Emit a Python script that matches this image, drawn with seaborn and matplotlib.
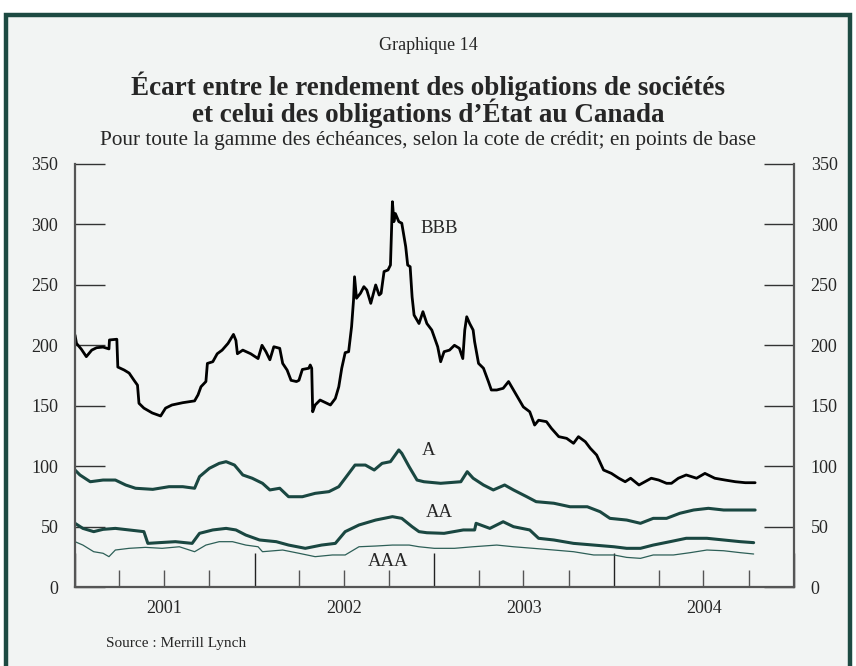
"""Graphique 14 - ecart de rendement obligations de societes vs Etat (Canada)."""
import matplotlib
matplotlib.use("Agg")
import matplotlib.dates as mdates
import matplotlib.pyplot as plt
import matplotlib.transforms as mtransforms
import pandas as pd
import seaborn as sns
from matplotlib.patches import Rectangle

# --- data (points de base) ---
BBB_DATES = [
    "2001-01-01", "2001-01-04", "2001-01-14", "2001-01-24", "2001-02-04", "2001-02-14",
    "2001-02-27", "2001-03-11", "2001-03-12", "2001-03-27", "2001-03-29", "2001-04-11",
    "2001-04-21", "2001-05-01", "2001-05-08", "2001-05-11", "2001-05-21", "2001-06-07",
    "2001-06-24", "2001-07-04", "2001-07-17", "2001-08-08", "2001-09-01", "2001-09-08",
    "2001-09-14", "2001-09-24", "2001-09-27", "2001-10-08", "2001-10-17", "2001-10-27",
    "2001-11-08", "2001-11-19", "2001-11-24", "2001-11-27", "2001-12-08", "2001-12-24",
    "2002-01-08", "2002-01-16", "2002-01-24", "2002-02-01", "2002-02-09", "2002-02-21",
    "2002-02-27", "2002-03-08", "2002-03-16", "2002-03-27", "2002-04-01", "2002-04-08",
    "2002-04-21", "2002-04-24", "2002-04-27", "2002-04-29", "2002-05-04", "2002-05-14",
    "2002-06-04", "2002-06-14", "2002-06-21", "2002-06-27", "2002-07-04", "2002-07-11",
    "2002-07-17", "2002-07-21", "2002-07-23", "2002-07-27", "2002-08-04", "2002-08-11",
    "2002-08-17", "2002-08-25", "2002-09-04", "2002-09-11", "2002-09-15", "2002-09-21",
    "2002-09-29", "2002-10-04", "2002-10-08", "2002-10-11", "2002-10-14", "2002-10-21",
    "2002-10-27", "2002-11-04", "2002-11-08", "2002-11-13", "2002-11-17", "2002-11-21",
    "2002-12-01", "2002-12-09", "2002-12-17", "2002-12-27", "2003-01-08", "2003-01-14",
    "2003-01-21", "2003-02-01", "2003-02-11", "2003-02-21", "2003-02-28", "2003-03-04",
    "2003-03-08", "2003-03-14", "2003-03-21", "2003-03-24", "2003-04-01", "2003-04-11",
    "2003-04-21", "2003-04-27", "2003-05-08", "2003-05-21", "2003-06-01", "2003-06-11",
    "2003-06-21", "2003-07-01", "2003-07-14", "2003-07-24", "2003-08-01", "2003-08-17",
    "2003-08-27", "2003-09-11", "2003-09-27", "2003-10-11", "2003-10-21", "2003-11-04",
    "2003-11-14", "2003-11-27", "2003-12-11", "2003-12-27", "2004-01-11", "2004-01-24",
    "2004-02-04", "2004-02-21", "2004-03-04", "2004-03-17", "2004-04-01", "2004-04-17",
    "2004-04-27", "2004-05-11", "2004-05-27", "2004-06-17", "2004-07-04", "2004-07-24",
    "2004-08-14", "2004-09-04", "2004-09-24", "2004-10-14",
]
BBB_VALUES = [
    208.5, 201.6, 196.7, 190.6, 196.0, 198.0,
    198.5, 197.0, 204.4, 205.0, 182.0, 179.5,
    177.0, 171.0, 167.0, 152.0, 148.0, 144.0,
    141.5, 148.0, 150.6, 152.5, 154.0, 159.0,
    165.7, 170.0, 185.0, 186.4, 193.0, 196.0,
    201.6, 209.0, 204.0, 193.0, 196.0, 193.0,
    189.0, 200.0, 194.7, 188.0, 198.8, 197.5,
    185.0, 179.5, 171.0, 170.0, 171.0, 180.0,
    181.0, 183.7, 181.0, 145.0, 150.6, 154.7,
    150.6, 156.0, 165.7, 181.0, 193.9, 194.7,
    215.4, 237.5, 256.7, 238.9, 243.0, 248.5,
    245.7, 234.7, 249.9, 241.6, 243.0, 261.0,
    262.3, 266.4, 318.8, 302.3, 309.0, 302.3,
    301.0, 281.6, 266.4, 265.0, 240.0, 225.0,
    218.0, 227.8, 218.0, 212.6, 198.8, 186.4,
    194.7, 196.0, 200.0, 197.5, 189.0, 212.6,
    223.6, 218.0, 212.6, 203.0, 185.0, 181.0,
    170.0, 163.0, 163.0, 164.4, 170.0, 163.0,
    156.0, 149.0, 145.0, 134.0, 138.0, 136.8,
    131.3, 124.4, 123.0, 118.9, 124.4, 120.2,
    114.8, 109.2, 96.8, 94.0, 90.0, 87.1,
    90.0, 84.4, 87.1, 90.0, 88.5, 85.8,
    85.8, 90.0, 92.7, 90.0, 94.0, 90.0,
    88.5, 87.1, 86.3, 86.3,
]

A_DATES = [
    "2001-01-01", "2001-01-11", "2001-02-01", "2001-02-27", "2001-03-24", "2001-04-14",
    "2001-05-04", "2001-06-08", "2001-07-11", "2001-08-08", "2001-09-01", "2001-09-11",
    "2001-10-01", "2001-10-21", "2001-11-04", "2001-11-21", "2001-12-08", "2001-12-27",
    "2002-01-17", "2002-02-01", "2002-02-21", "2002-03-11", "2002-04-08", "2002-05-04",
    "2002-06-01", "2002-06-21", "2002-07-04", "2002-07-24", "2002-08-14", "2002-09-01",
    "2002-09-17", "2002-10-04", "2002-10-21", "2002-10-27", "2002-11-11", "2002-11-27",
    "2002-12-11", "2003-01-14", "2003-02-24", "2003-03-09", "2003-03-21", "2003-04-11",
    "2003-05-01", "2003-05-24", "2003-06-11", "2003-07-08", "2003-07-27", "2003-09-01",
    "2003-10-04", "2003-11-08", "2003-12-04", "2003-12-24", "2004-01-27", "2004-02-24",
    "2004-03-21", "2004-04-17", "2004-05-14", "2004-06-11", "2004-07-11", "2004-08-11",
    "2004-09-14", "2004-10-14",
]
A_VALUES = [
    96.8, 92.7, 87.1, 88.5, 88.5, 84.4,
    81.7, 80.8, 83.0, 83.0, 81.7, 91.3,
    98.2, 102.3, 103.7, 100.9, 92.7, 90.0,
    85.8, 80.3, 81.7, 74.7, 74.7, 77.5,
    78.9, 83.0, 90.0, 100.9, 100.9, 96.8,
    102.3, 103.7, 113.4, 110.6, 99.5, 88.5,
    87.1, 85.8, 87.1, 95.4, 90.0, 84.4,
    80.3, 84.4, 80.3, 74.7, 70.6, 69.3,
    66.4, 66.4, 62.3, 56.8, 55.4, 52.7,
    56.8, 56.8, 61.0, 63.7, 65.1, 63.7,
    63.7, 63.7,
]

AA_DATES = [
    "2001-01-01", "2001-01-17", "2001-02-08", "2001-02-27", "2001-03-24", "2001-04-21",
    "2001-05-21", "2001-05-29", "2001-06-21", "2001-07-24", "2001-08-27", "2001-09-11",
    "2001-10-08", "2001-11-04", "2001-11-24", "2001-12-14", "2002-01-11", "2002-02-14",
    "2002-03-11", "2002-04-14", "2002-05-17", "2002-06-14", "2002-07-04", "2002-08-01",
    "2002-09-04", "2002-10-08", "2002-10-27", "2002-11-17", "2002-12-01", "2002-12-17",
    "2003-01-21", "2003-03-01", "2003-03-24", "2003-03-27", "2003-04-24", "2003-05-21",
    "2003-06-11", "2003-07-14", "2003-08-01", "2003-09-01", "2003-10-11", "2003-11-21",
    "2004-01-01", "2004-01-27", "2004-02-24", "2004-03-21", "2004-04-24", "2004-05-27",
    "2004-07-08", "2004-08-11", "2004-09-14", "2004-10-11",
]
AA_VALUES = [
    52.7, 48.5, 45.8, 47.7, 48.5, 47.2,
    45.8, 36.1, 36.7, 37.5, 36.1, 44.4,
    47.2, 48.5, 47.2, 43.0, 38.9, 37.5,
    34.7, 32.0, 34.7, 36.1, 45.8, 51.3,
    55.4, 58.2, 56.8, 49.9, 45.8, 44.9,
    44.4, 47.2, 47.2, 52.7, 48.5, 54.0,
    49.9, 47.2, 40.3, 38.9, 36.1, 34.7,
    33.3, 32.0, 32.0, 34.7, 37.5, 40.3,
    40.3, 38.9, 37.5, 36.7,
]

AAA_DATES = [
    "2001-01-01", "2001-01-17", "2001-02-08", "2001-02-27", "2001-03-11", "2001-03-24",
    "2001-04-21", "2001-05-24", "2001-06-27", "2001-08-01", "2001-09-01", "2001-09-24",
    "2001-10-21", "2001-11-17", "2001-12-14", "2002-01-08", "2002-01-17", "2002-02-27",
    "2002-04-01", "2002-05-04", "2002-06-08", "2002-07-04", "2002-08-01", "2002-09-04",
    "2002-10-08", "2002-11-11", "2002-12-01", "2003-01-01", "2003-02-11", "2003-03-21",
    "2003-05-08", "2003-06-11", "2003-07-21", "2003-09-01", "2003-10-11", "2003-11-21",
    "2004-01-01", "2004-01-27", "2004-02-24", "2004-03-21", "2004-05-01", "2004-06-04",
    "2004-07-08", "2004-08-11", "2004-09-14", "2004-10-11",
]
AAA_VALUES = [
    37.5, 34.7, 29.2, 27.9, 25.1, 30.6,
    32.0, 32.8, 32.0, 33.3, 29.2, 34.7,
    37.5, 37.5, 34.7, 33.3, 29.2, 30.6,
    27.9, 25.1, 26.5, 26.5, 33.3, 33.9,
    34.7, 34.7, 33.3, 32.0, 32.0, 33.3,
    34.7, 33.3, 32.0, 30.6, 29.2, 26.5,
    26.5, 24.5, 23.7, 26.5, 26.5, 28.4,
    30.6, 30.0, 28.4, 27.3,
]

YEAR_LABELS = ["2001", "2002", "2003", "2004"]
Y_TICKS = [0, 50, 100, 150, 200, 250, 300, 350]

BG = "#f2f4f3"
FRAME = "#1d4a42"
DARK_TEAL = "#1a4741"
LIGHT_TEAL = "#2d5f57"

sns.set_theme(style="white")
plt.rcParams["font.family"] = ["Liberation Serif", "DejaVu Serif"]

fig = plt.figure(figsize=(8.56, 6.66), dpi=100, facecolor="white")
# framed panel, open at the bottom, drawn behind the axes
fig.patches.append(Rectangle((6 / 856, -0.05), 844 / 856, 1.05 - 15 / 666,
                             transform=fig.transFigure, facecolor=BG,
                             edgecolor=FRAME, linewidth=3.2, zorder=-10))

ax = fig.add_axes([75 / 856, 1 - 587 / 666, 719 / 856, 423 / 666])
ax.set_facecolor(BG)
ax.set_zorder(1)

series = [
    ("AAA", AAA_DATES, AAA_VALUES, LIGHT_TEAL, 0.9),
    ("AA", AA_DATES, AA_VALUES, DARK_TEAL, 2.2),
    ("A", A_DATES, A_VALUES, DARK_TEAL, 2.2),
    ("BBB", BBB_DATES, BBB_VALUES, "black", 2.0),
]
for name, dates, values, color, lw in series:
    df = pd.DataFrame({"date": pd.to_datetime(dates), "value": values})
    sns.lineplot(data=df, x="date", y="value", color=color, linewidth=lw,
                 estimator=None, ax=ax)

# series labels
ax.text(pd.Timestamp("2003-01-11"), 297, "BBB", fontsize=13.5, ha="center", va="center")
ax.text(pd.Timestamp("2002-12-21"), 113, "A", fontsize=13.5, ha="center", va="center")
ax.text(pd.Timestamp("2003-01-11"), 62, "AA", fontsize=13.5, ha="center", va="center")
ax.text(pd.Timestamp("2002-09-29"), 21, "AAA", fontsize=13.5, ha="center", va="center")

ax.set_xlim(pd.Timestamp("2001-01-01"), pd.Timestamp("2005-01-01"))
ax.set_ylim(0, 350)
ax.set_xlabel("")
ax.set_ylabel("")

ax.set_yticks(Y_TICKS)
ax.tick_params(axis="y", direction="in", length=21.6, width=1.0, color="#333333",
               left=True, right=True, labelleft=True, labelright=True,
               labelsize=13, pad=12)

ax.xaxis.set_major_locator(mdates.YearLocator())
ax.xaxis.set_minor_locator(mdates.MonthLocator(bymonth=[4, 7, 10]))
ax.xaxis.set_major_formatter(plt.NullFormatter())
ax.tick_params(axis="x", which="major", direction="in", length=24.5, width=1.0,
               color="#222222", bottom=True)
ax.tick_params(axis="x", which="minor", direction="in", length=12.2, width=1.0,
               color="#555555", bottom=True)

trans = mtransforms.blended_transform_factory(ax.transData, ax.transAxes)
for year in YEAR_LABELS:
    ax.text(pd.Timestamp(f"{year}-07-02"), -0.05, year, transform=trans,
            ha="center", va="center", fontsize=13)

for side in ["left", "right", "bottom"]:
    ax.spines[side].set_color("#555555")
    ax.spines[side].set_linewidth(1.6)
ax.spines["top"].set_visible(False)

fig.text(0.5, 1 - 45 / 666, "Graphique 14", ha="center", va="center", fontsize=13)
fig.text(0.5, 1 - 100 / 666,
         "Écart entre le rendement des obligations de sociétés\n"
         "et celui des obligations d\u2019État au Canada",
         ha="center", va="center", fontsize=19.5, fontweight="bold", linespacing=0.88)
fig.text(0.5, 1 - 141 / 666,
         "Pour toute la gamme des échéances, selon la cote de crédit; en points de base",
         ha="center", va="center", fontsize=15.3)
fig.text(106 / 856, 1 - 643 / 666, "Source : Merrill Lynch", ha="left", va="center",
         fontsize=11)

fig.savefig("out.png", dpi=100, facecolor=fig.get_facecolor())
